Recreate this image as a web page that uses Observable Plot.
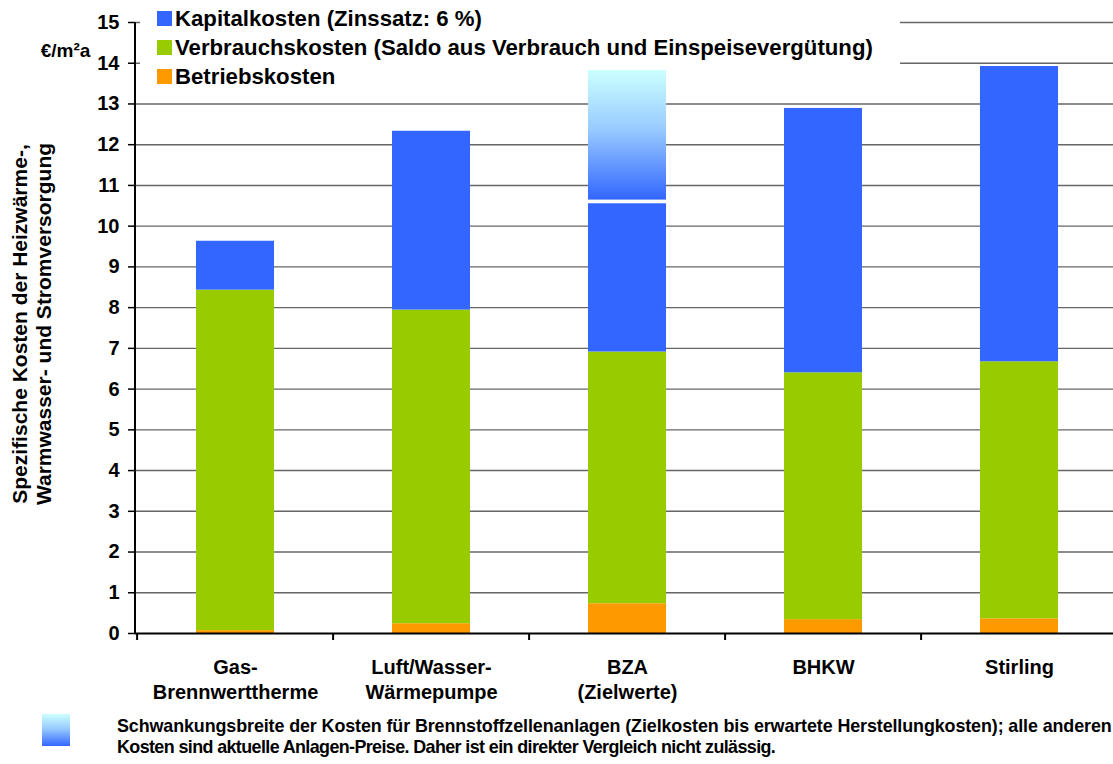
<!DOCTYPE html>
<html>
<head>
<meta charset="utf-8">
<script src="https://cdn.jsdelivr.net/npm/d3@7"></script>
<script src="https://cdn.jsdelivr.net/npm/@observablehq/plot@0.6"></script>
<style>
  html, body { margin: 0; padding: 0; background: #fff; }
  body { width: 1113px; height: 764px; overflow: hidden; font-family: "Liberation Sans", Arial, sans-serif; }
  #wrap { position: relative; width: 1113px; height: 764px; }
  #legend { position: absolute; left: 140px; top: 0px; width: 760px; height: 92px; }
  .row { position: absolute; left: 17px; height: 29px; display: flex; align-items: center; font-weight: bold; font-size: 22.2px; color: #000; white-space: nowrap; }
  .sw { width: 15px; height: 15px; margin-right: 3px; }
  #caption { position: absolute; left: 0; top: 705px; width: 1113px; height: 59px; }
  #capsw { position: absolute; left: 42px; top: 9px; width: 28px; height: 32px; background: linear-gradient(to bottom, #ccffff, #99ccff 45%, #3366ff); }
  #captext { position: absolute; left: 117px; top: 11px; font-weight: bold; font-size: 17.9px; line-height: 21px; white-space: nowrap; }
  #captext .l1 { letter-spacing: -0.1px; }
  #captext .l2 { letter-spacing: -0.6px; }
</style>
</head>
<body>
<div id="wrap"></div>
<script>
// ---- data ----
const categories = ["Gas-\nBrennwerttherme", "Luft/Wasser-\nWärmepumpe", "BZA\n(Zielwerte)", "BHKW", "Stirling"];
const seriesNames = ["Betriebskosten", "Verbrauchskosten (Saldo aus Verbrauch und Einspeisevergütung)", "Kapitalkosten (Zinssatz: 6 %)"];
const betriebskosten   = [0.07, 0.24, 0.73, 0.34, 0.36];
const verbrauchskosten = [8.36, 7.70, 6.18, 6.06, 6.31];
const kapitalkosten    = [1.20, 4.39, 3.64, 6.49, 7.25];
// fluctuation range of fuel cell costs (BZA)
const rangeCategory = ["BZA\n(Zielwerte)"];
const rangeLow  = [10.64];
const rangeHigh = [13.82];
const yTicks = d3.range(0, 16);
const colors = ["#ff9900", "#99cc00", "#3366ff"];
const yTitle = "Spezifische Kosten der Heizwärme-,\nWarmwasser- und Stromversorgung";
const unitLabel = "€/m²a";
const captionLines = [
  "Schwankungsbreite der Kosten für Brennstoffzellenanlagen (Zielkosten bis erwartete Herstellungkosten); alle anderen",
  "Kosten sind aktuelle Anlagen-Preise. Daher ist ein direkter Vergleich nicht zulässig."
];

// ---- table ----
const seriesValues = [betriebskosten, verbrauchskosten, kapitalkosten];
const table = [];
categories.forEach((c, i) => {
  seriesNames.forEach((s, j) => table.push({cat: c, series: s, value: seriesValues[j][i]}));
});
const rangeTable = rangeCategory.map((c, i) => ({cat: c, lo: rangeLow[i], hi: rangeHigh[i]}));

const defs = () => {
  const g = d3.create("svg:defs");
  const lg = g.append("linearGradient").attr("id", "bzaGrad").attr("x1", 0).attr("y1", 0).attr("x2", 0).attr("y2", 1);
  lg.append("stop").attr("offset", "0%").attr("stop-color", "#ccffff");
  lg.append("stop").attr("offset", "45%").attr("stop-color", "#99ccff");
  lg.append("stop").attr("offset", "100%").attr("stop-color", "#3366ff");
  return g.node();
};
// white legend background: hides the gridlines behind the legend text, but stays under the bars
const legendBg = () => d3.create("svg:rect").attr("x", 140).attr("y", 0).attr("width", 760).attr("height", 90).attr("fill", "#fff").node();

const chart = Plot.plot({
  width: 1113,
  height: 764,
  marginTop: 22,
  marginBottom: 131,
  marginLeft: 135,
  marginRight: 0,
  style: {fontFamily: "'Liberation Sans', Arial, sans-serif", color: "#000", background: "#fff"},
  x: {domain: categories, range: [135, 1119], paddingInner: 0.6, paddingOuter: 0.3, axis: null},
  y: {domain: [0, 15], axis: null},
  color: {domain: seriesNames, range: colors},
  marks: [
    defs,
    Plot.ruleY(yTicks.filter(d => d > 0), {stroke: "#666", strokeWidth: 1.4}),
    legendBg,
    Plot.barY(table, Plot.stackY({x: "cat", y: "value", fill: "series", order: null})),
    Plot.barY(rangeTable, {x: "cat", y1: "lo", y2: "hi", fill: "url(#bzaGrad)"}),
    Plot.ruleY([0], {stroke: "#000", strokeWidth: 2}),
    Plot.axisY({ticks: yTicks, tickSize: 7, tickPadding: 9, fontSize: 20, fontWeight: "bold", strokeWidth: 1.5, label: null}),
    Plot.axisX({tickSize: 7, dx: -98.4, tickFormat: () => "", strokeWidth: 2, label: null}),
    Plot.axisX({tickSize: 0, tickPadding: 23, fontSize: 20, fontWeight: "bold", lineHeight: 1.25, label: null}),
    Plot.text([yTitle], {frameAnchor: "left", rotate: -90, dx: -104, dy: -4, fontSize: 21, fontWeight: "bold", lineHeight: 1.12, textAnchor: "middle"}),
    Plot.text([unitLabel], {frameAnchor: "top-left", dx: -70, dy: 21, fontSize: 19, fontWeight: "bold", textAnchor: "middle", letterSpacing: -0.5})
  ]
});
const wrap = document.getElementById("wrap");
wrap.appendChild(chart);
// Y axis line
d3.select(chart).append("line").attr("x1", 135).attr("x2", 135).attr("y1", 22).attr("y2", 633).attr("stroke", "#000").attr("stroke-width", 2);

// legend
const legend = document.createElement("div");
legend.id = "legend";
[2, 1, 0].forEach((j, k) => {
  const row = document.createElement("div");
  row.className = "row";
  row.style.top = (4 + k * 29.2) + "px";
  row.innerHTML = `<div class="sw" style="background:${colors[j]}"></div><span>${seriesNames[j]}</span>`;
  legend.appendChild(row);
});
wrap.appendChild(legend);

// caption
const cap = document.createElement("div");
cap.id = "caption";
cap.innerHTML = `<div id="capsw"></div><div id="captext"><span class="l1">${captionLines[0]}</span><br><span class="l2">${captionLines[1]}</span></div>`;
wrap.appendChild(cap);
</script>
</body>
</html>
